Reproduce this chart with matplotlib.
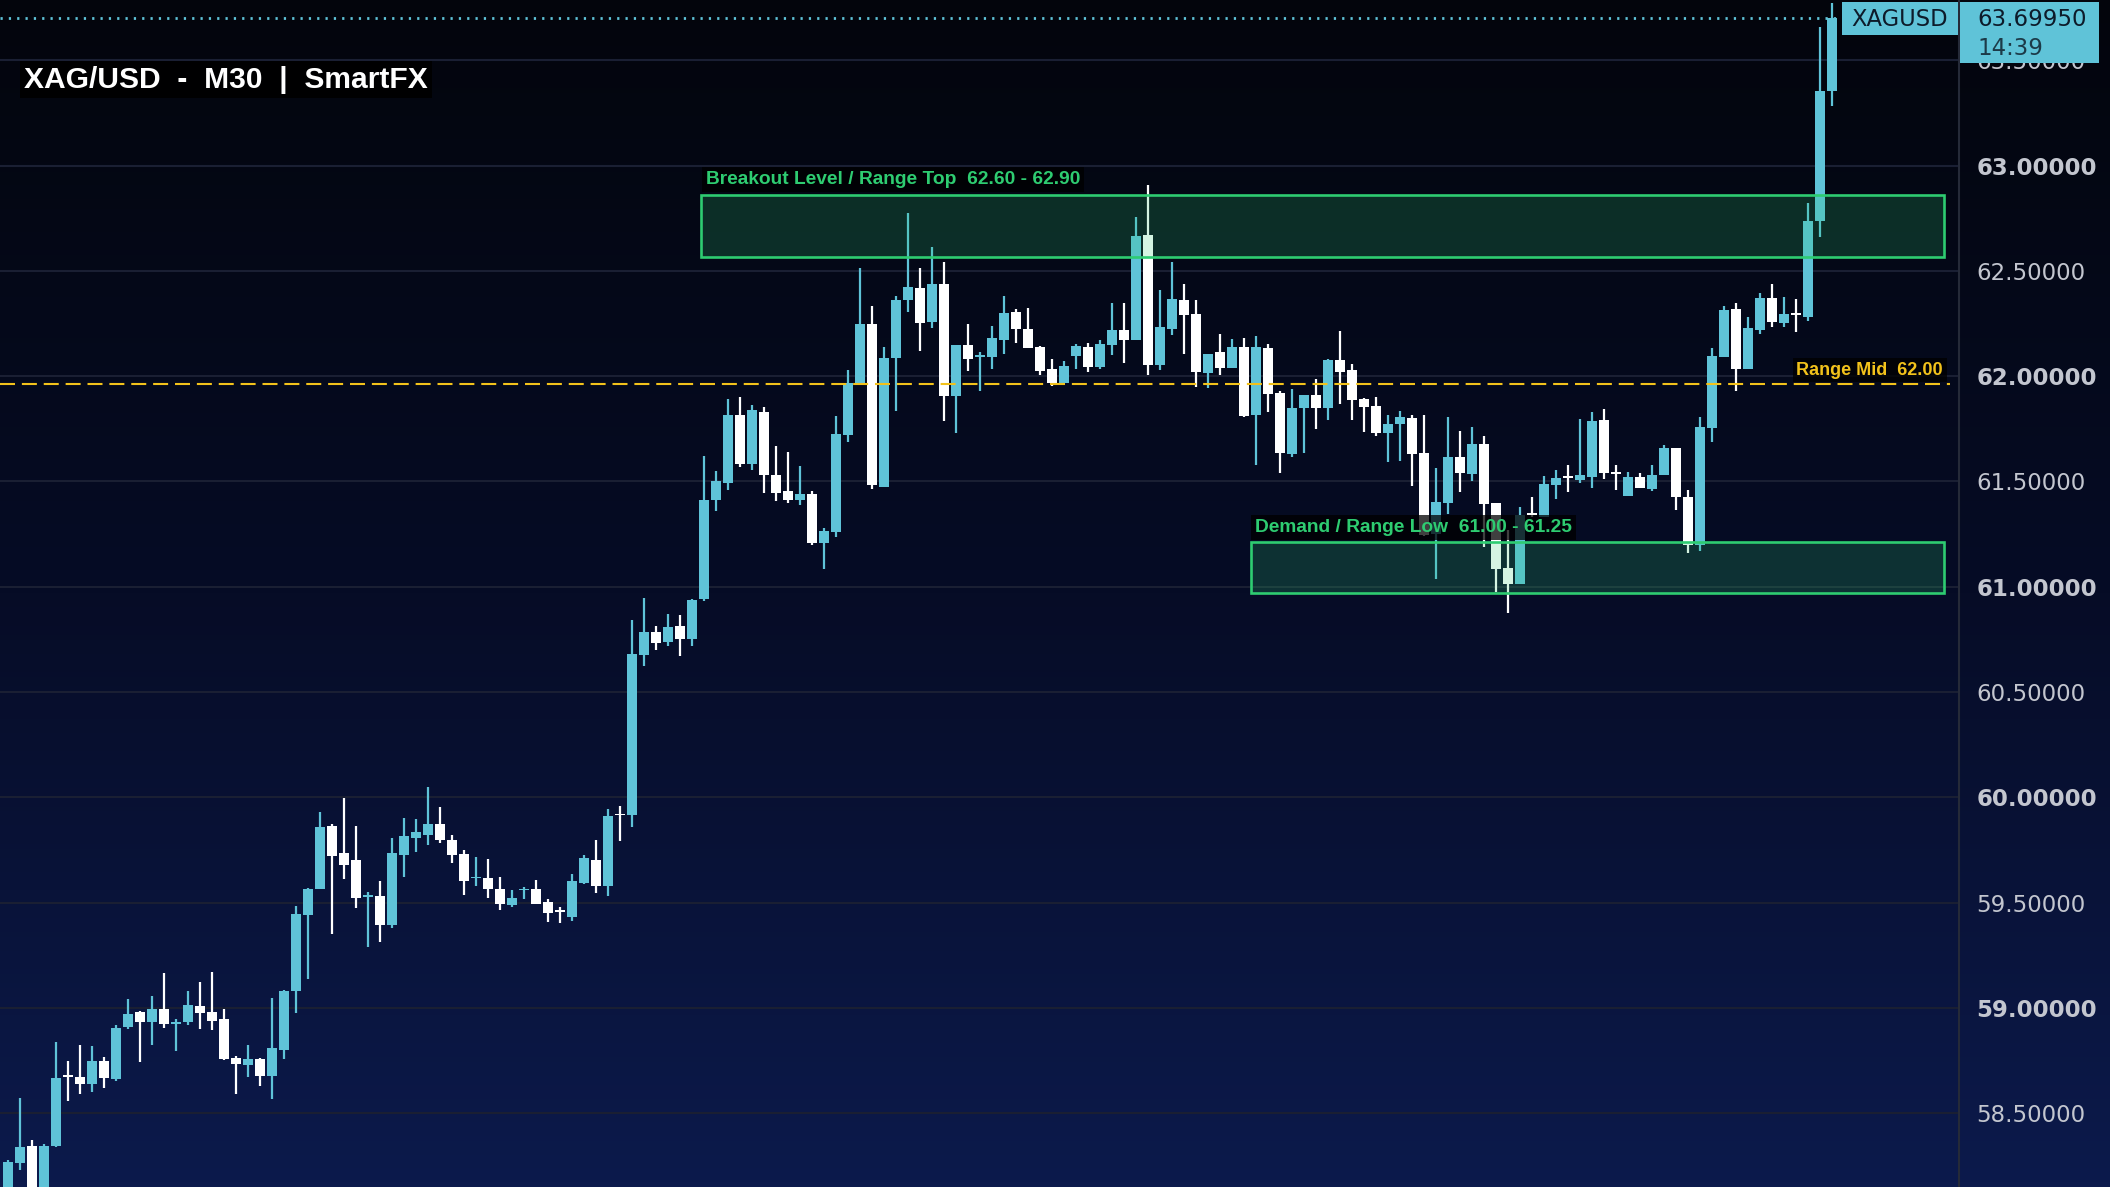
import numpy as np
import matplotlib
matplotlib.use("Agg")
import matplotlib.pyplot as plt
from matplotlib.patches import Rectangle
from matplotlib.lines import Line2D
from matplotlib.colors import LinearSegmentedColormap

# XAG/USD 30 min candles
opens = [58.10, 58.264, 58.344, 58.13, 58.344, 58.675, 58.672, 58.638, 58.748, 58.662,
         58.909, 58.980, 58.933, 58.994, 58.926, 58.933, 59.009, 58.980, 58.947, 58.762,
         58.729, 58.757, 58.676, 58.800, 59.080, 59.441, 59.564, 59.864, 59.735, 59.702,
         59.529, 59.531, 59.393, 59.726, 59.807, 59.821, 59.873, 59.797, 59.731, 59.615,
         59.617, 59.564, 59.488, 59.558, 59.564, 59.503, 59.458, 59.432, 59.593, 59.702,
         59.579, 59.917, 59.916, 60.678, 60.785, 60.740, 60.813, 60.751, 60.941, 61.412,
         61.493, 61.816, 61.583, 61.829, 61.531, 61.455, 61.412, 61.440, 61.208, 61.260,
         61.720, 61.966, 62.248, 61.474, 62.086, 62.362, 62.419, 62.257, 62.437, 61.905,
         62.148, 62.090, 62.091, 62.171, 62.304, 62.224, 62.138, 62.034, 61.967, 62.095,
         62.138, 62.043, 62.148, 62.219, 62.171, 62.670, 62.053, 62.224, 62.361, 62.295,
         62.015, 62.114, 62.038, 62.138, 61.815, 62.133, 61.920, 61.630, 61.849, 61.910,
         61.849, 62.076, 62.029, 61.891, 61.858, 61.730, 61.773, 61.801, 61.635, 61.250,
         61.397, 61.616, 61.535, 61.678, 61.397, 61.089, 61.013, 61.342, 61.333, 61.483,
         61.519, 61.507, 61.521, 61.792, 61.539, 61.433, 61.521, 61.465, 61.533, 61.659,
         61.426, 61.199, 61.756, 62.090, 62.319, 62.034, 62.220, 62.370, 62.254, 62.293,
         62.282, 62.736, 63.354]
highs = [58.28, 58.572, 58.373, 58.354, 58.838, 58.748, 58.824, 58.819, 58.767, 58.918,
         59.042, 58.985, 59.056, 59.165, 58.947, 59.080, 59.123, 59.170, 58.994, 58.771,
         58.824, 58.762, 59.047, 59.085, 59.484, 59.569, 59.930, 59.873, 59.997, 59.864,
         59.550, 59.602, 59.807, 59.902, 59.897, 60.049, 59.954, 59.821, 59.750, 59.716,
         59.707, 59.621, 59.560, 59.574, 59.607, 59.517, 59.479, 59.636, 59.726, 59.797,
         59.944, 59.959, 60.842, 60.947, 60.813, 60.870, 60.866, 60.941, 61.621, 61.549,
         61.891, 61.900, 61.863, 61.853, 61.668, 61.639, 61.574, 61.455, 61.279, 61.810,
         62.030, 62.512, 62.332, 62.139, 62.381, 62.774, 62.512, 62.613, 62.542, 62.148,
         62.247, 62.114, 62.238, 62.380, 62.319, 62.323, 62.143, 62.081, 62.072, 62.152,
         62.157, 62.171, 62.347, 62.347, 62.755, 62.907, 62.409, 62.542, 62.437, 62.361,
         62.105, 62.200, 62.176, 62.181, 62.190, 62.152, 61.929, 61.939, 61.910, 61.986,
         62.081, 62.214, 62.057, 61.896, 61.901, 61.815, 61.834, 61.815, 61.815, 61.564,
         61.806, 61.739, 61.758, 61.716, 61.397, 61.269, 61.378, 61.426, 61.526, 61.554,
         61.578, 61.796, 61.830, 61.844, 61.578, 61.544, 61.540, 61.578, 61.674, 61.659,
         61.458, 61.805, 62.134, 62.333, 62.348, 62.280, 62.395, 62.438, 62.376, 62.366,
         62.823, 63.658, 63.771]
lows = [58.06, 58.230, 58.08, 58.10, 58.339, 58.558, 58.591, 58.600, 58.619, 58.653,
        58.899, 58.743, 58.824, 58.904, 58.795, 58.918, 58.899, 58.895, 58.752, 58.591,
        58.671, 58.629, 58.567, 58.757, 58.975, 59.137, 59.564, 59.351, 59.612, 59.474,
        59.289, 59.313, 59.379, 59.621, 59.740, 59.773, 59.783, 59.688, 59.536, 59.579,
        59.522, 59.465, 59.479, 59.517, 59.493, 59.408, 59.403, 59.413, 59.588, 59.545,
        59.531, 59.792, 59.859, 60.626, 60.701, 60.721, 60.669, 60.721, 60.932, 61.360,
        61.459, 61.570, 61.555, 61.444, 61.407, 61.397, 61.388, 61.198, 61.084, 61.236,
        61.686, 61.966, 61.465, 61.474, 61.835, 62.304, 62.120, 62.229, 61.788, 61.730,
        62.024, 61.929, 62.034, 62.105, 62.157, 62.133, 62.005, 61.953, 61.967, 62.034,
        62.019, 62.034, 62.100, 62.062, 62.171, 62.005, 62.029, 62.195, 62.105, 61.948,
        61.943, 62.005, 62.038, 61.805, 61.578, 61.830, 61.540, 61.616, 61.635, 61.749,
        61.792, 61.868, 61.792, 61.735, 61.716, 61.592, 61.597, 61.478, 61.241, 61.037,
        61.345, 61.450, 61.502, 61.188, 60.975, 60.875, 61.013, 61.333, 61.333, 61.416,
        61.450, 61.492, 61.469, 61.511, 61.459, 61.433, 61.471, 61.456, 61.533, 61.364,
        61.161, 61.171, 61.689, 62.090, 61.931, 62.034, 62.199, 62.233, 62.235, 62.209,
        62.263, 62.663, 63.284]
closes = [58.27, 58.339, 58.12, 58.344, 58.667, 58.672, 58.638, 58.748, 58.667, 58.904,
          58.971, 58.933, 58.994, 58.923, 58.930, 59.013, 58.975, 58.937, 58.757, 58.733,
          58.757, 58.676, 58.809, 59.080, 59.446, 59.564, 59.859, 59.721, 59.678, 59.522,
          59.532, 59.393, 59.735, 59.816, 59.835, 59.873, 59.797, 59.726, 59.602, 59.617,
          59.564, 59.493, 59.522, 59.561, 59.493, 59.450, 59.455, 59.602, 59.712, 59.579,
          59.911, 59.914, 60.680, 60.785, 60.735, 60.810, 60.751, 60.937, 61.412, 61.502,
          61.816, 61.583, 61.838, 61.531, 61.444, 61.412, 61.440, 61.208, 61.264, 61.726,
          61.966, 62.248, 61.484, 62.086, 62.362, 62.422, 62.251, 62.437, 61.906, 62.148,
          62.081, 62.092, 62.181, 62.300, 62.224, 62.133, 62.024, 61.967, 62.048, 62.143,
          62.043, 62.152, 62.219, 62.171, 62.665, 62.053, 62.233, 62.366, 62.290, 62.019,
          62.105, 62.038, 62.138, 61.811, 62.138, 61.915, 61.635, 61.849, 61.910, 61.849,
          62.076, 62.019, 61.887, 61.853, 61.730, 61.773, 61.806, 61.630, 61.245, 61.402,
          61.616, 61.540, 61.678, 61.393, 61.084, 61.013, 61.340, 61.340, 61.488, 61.516,
          61.517, 61.530, 61.787, 61.540, 61.536, 61.521, 61.471, 61.533, 61.659, 61.424,
          61.199, 61.758, 62.096, 62.314, 62.034, 62.228, 62.370, 62.259, 62.297, 62.290,
          62.736, 63.354, 63.6995]

last_price = 63.6995
last_time = "14:39"
price_ticks = [58.5, 59.0, 59.5, 60.0, 60.5, 61.0, 61.5, 62.0, 62.5, 63.0, 63.5]

# zones as drawn on the chart (they sit slightly below their labelled values)
breakout_zone = (62.568, 62.859)
demand_zone = (60.970, 61.211)
range_mid = 61.965

title = "XAG/USD  -  M30  |  SmartFX"
breakout_label = "Breakout Level / Range Top  62.60 - 62.90"
demand_label = "Demand / Range Low  61.00 - 61.25"
mid_label = "Range Mid  62.00"

CYAN = '#5fc3d8'
GREEN = '#2ecc71'
YELLOW = '#f2c21b'
W, H = 2110, 1187

fig = plt.figure(figsize=(W / 100, H / 100), dpi=100)

# background gradient
bg = fig.add_axes([0, 0, 1, 1], zorder=-1)
cmap = LinearSegmentedColormap.from_list('bg', ['#03050c', '#060c26', '#0c1a4c'])
bg.imshow(np.linspace(0, 1, 256).reshape(-1, 1), aspect='auto', cmap=cmap,
          extent=[0, 1, 0, 1], origin='upper')
bg.axis('off')

ax = fig.add_axes([0, 0, 1959 / W, 1])
ax.patch.set_alpha(0)
ax.set_xlim(-0.667, 162.58)
ax.set_ylim(58.15, 63.786)

# candles
x = np.arange(len(opens))
o, hi, lo, c = map(np.array, (opens, highs, lows, closes))
cols = np.where(c >= o, CYAN, '#ffffff')
ax.vlines(x, lo, hi, colors=cols, lw=1.6, zorder=3)
body_h = np.maximum(np.abs(c - o), 0.009)
ax.bar(x, body_h, bottom=np.minimum(o, c), width=0.83, color=cols, lw=0, zorder=4)

# zones
def zone(x0, x1, z):
    ax.add_patch(Rectangle((x0, z[0]), x1 - x0, z[1] - z[0], fc=GREEN, alpha=0.2,
                           ec='none', zorder=5))
    ax.add_patch(Rectangle((x0, z[0]), x1 - x0, z[1] - z[0], fc='none', ec=GREEN,
                           lw=1.9, zorder=6))

zone(57.75, 161.33, breakout_zone)
zone(103.58, 161.33, demand_zone)

ax.plot([-0.667, 161.8], [range_mid] * 2, color=YELLOW, lw=1.5, dashes=(7.2, 3.3), zorder=6)
ax.plot([-0.667, 152.8], [last_price] * 2, color=CYAN, lw=2, dashes=(0.8, 2.2), zorder=2)

lab = dict(family='Liberation Sans', weight='bold', va='baseline', zorder=8)
box = dict(boxstyle='square,pad=0.2', fc='black', ec='none', alpha=0.75)
ax.text(58.17, 62.911, breakout_label, color=GREEN, ha='left', bbox=box, fontsize=13.8, **lab)
ax.text(103.92, 61.261, demand_label, color=GREEN, ha='left', bbox=box, fontsize=13.8, **lab)
ax.text(161.25, 62.006, mid_label, color=YELLOW, ha='right', bbox=box, fontsize=13, **lab)

# price axis on the right
ax.yaxis.tick_right()
ax.set_yticks(price_ticks)
ax.set_yticklabels([f'{v:.5f}' for v in price_ticks])
ax.tick_params(axis='y', length=0, pad=12.5, labelsize=16.5, labelcolor='#c3c6cf')
for t, v in zip(ax.get_yticklabels(), price_ticks):
    if v == int(v):
        t.set_fontweight('bold')
ax.set_xticks([])
for s in ax.spines.values():
    s.set_visible(False)
ax.grid(axis='y', color='#1a1f33', lw=1.5)
ax.set_axisbelow(True)

fig.add_artist(Line2D([1959 / W] * 2, [0, 1], transform=fig.transFigure,
                      color='#252a38', lw=1.5))

# title
fig.text(24 / W, 1 - 87.5 / H, title, family='Liberation Sans', weight='bold',
         fontsize=21.6, color='white', va='baseline',
         bbox=dict(boxstyle='square,pad=0.15', fc='black', ec='none', alpha=0.9))

# last price tags
def px_rect(x0, y0, x1, y1, color):
    fig.add_artist(Rectangle((x0 / W, 1 - y1 / H), (x1 - x0) / W, (y1 - y0) / H,
                             transform=fig.transFigure, fc=color, ec='none', zorder=10))

px_rect(1842, 2, 1958, 35, CYAN)
px_rect(1960, 2, 2099, 63, CYAN)
fig.text(1851 / W, 1 - 26 / H, 'XAGUSD', fontsize=16.3, color='#0d1b2a',
         va='baseline', zorder=11)
fig.text(1977 / W, 1 - 26.5 / H, f'{last_price:.5f}', fontsize=16.5, color='#0d1b2a',
         va='baseline', zorder=11)
fig.text(1977 / W, 1 - 55 / H, last_time, fontsize=16.5, color='#1c3a48',
         va='baseline', zorder=11)

fig.savefig('out.png', dpi=100)
